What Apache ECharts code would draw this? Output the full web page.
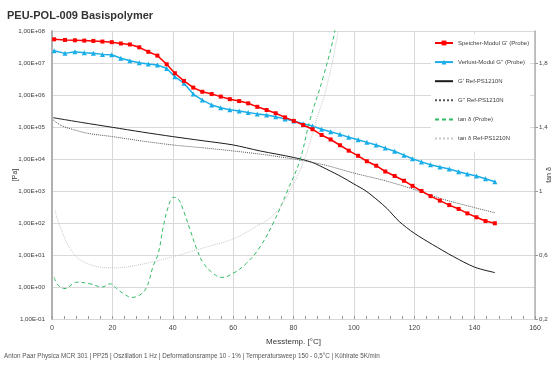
<!DOCTYPE html>
<html>
<head>
<meta charset="utf-8">
<script src="https://cdn.jsdelivr.net/npm/echarts@6/dist/echarts.min.js"></script>
<style>
  html, body { margin: 0; padding: 0; background: #fff; }
  #chart { width: 554px; height: 367px; }
</style>
</head>
<body>
<div id="chart"></div>
<script>
const FONT = '"Liberation Sans Narrow", "Liberation Sans", sans-serif'

// probe: G' and G'' share the same temperature points
const tempProbe = [0.7, 4.3, 7.6, 10.7, 13.7, 16.7, 19.8, 22.8, 25.8, 28.9, 31.9, 34.9, 38.0, 40.7, 43.7, 46.8, 49.8,
  52.9, 55.9, 58.9, 62.0, 65.0, 68.0, 71.1, 74.1, 77.2, 80.1, 83.2, 86.3, 89.3, 92.3, 95.4, 98.3, 101.4, 104.3,
  107.4, 110.4, 113.5, 116.6, 119.4, 122.4, 125.4, 128.5, 131.6, 134.7, 137.6, 140.6, 143.6, 146.7]
const storageProbe = [5.50e7, 5.25e7, 5.13e7, 5.01e7, 4.90e7, 4.68e7, 4.47e7, 4.07e7, 3.80e7, 3.09e7, 2.24e7, 1.70e7,
  9.12e6, 4.79e6, 2.75e6, 1.70e6, 1.26e6, 1.07e6, 8.91e5, 7.41e5, 6.46e5, 5.50e5, 4.27e5, 3.39e5, 2.69e5, 2.00e5,
  1.55e5, 1.15e5, 8.51e4, 5.62e4, 4.07e4, 2.69e4, 1.82e4, 1.26e4, 8.51e3, 6.17e3, 4.07e3, 2.95e3, 2.09e3, 1.45e3,
  1.00e3, 692, 501, 363, 275, 200, 151, 115, 98]
const lossProbe = [2.40e7, 2.00e7, 2.24e7, 2.09e7, 2.00e7, 1.86e7, 1.82e7, 1.41e7, 1.17e7, 1.02e7, 9.33e6, 8.71e6,
  6.76e6, 3.72e6, 2.34e6, 1.07e6, 6.92e5, 4.90e5, 3.98e5, 3.47e5, 3.16e5, 2.82e5, 2.57e5, 2.37e5, 2.09e5, 1.78e5,
  1.55e5, 1.26e5, 1.07e5, 8.51e4, 7.08e4, 5.89e4, 4.79e4, 3.98e4, 3.31e4, 2.75e4, 2.19e4, 1.74e4, 1.32e4, 1.02e4,
  8.13e3, 6.61e3, 5.62e3, 4.90e3, 3.98e3, 3.39e3, 2.95e3, 2.40e3, 1.95e3]

// reference PS1210N
const tempRefStorage = [0.4, 10, 20, 30, 40, 50, 60, 69, 80, 86, 91, 96, 100, 104, 108, 111, 115, 120, 126, 133, 140, 146.7]
const storageRef = [1.95e5, 1.38e5, 9.77e4, 6.92e4, 5.01e4, 3.72e4, 2.75e4, 1.78e4, 1.12e4, 7.94e3, 4.79e3, 2.75e3,
  1.66e3, 1.00e3, 501, 282, 112, 47.9, 21.4, 8.91, 4.17, 2.82]
const tempRefLoss = [0.4, 3, 7, 12, 20, 30, 40, 50, 62, 70, 78, 82, 90, 100, 110, 120, 130, 140, 146.7]
const lossRef = [1.66e5, 1.12e5, 8.32e4, 6.31e4, 5.01e4, 3.63e4, 2.75e4, 2.24e4, 1.70e4, 1.38e4, 1.07e4, 9.33e3,
  6.61e3, 3.63e3, 2.14e3, 1.12e3, 537, 302, 209]

// tan delta (right axis)
const tempTanProbe = [0.7, 2.1, 4.3, 8.2, 12.6, 16.5, 19.4, 21.4, 23.6, 26.4, 29.1, 31.4, 33.5, 35.2, 36.9, 38.5,
  40.2, 41.8, 43.5, 45.7, 47.9, 50.1, 53.4, 56.2, 60.0, 64.5, 68.9, 73.3, 78.2, 82.1, 85.4, 89.8, 93.7, 96.0]
const tanProbe = [0.46, 0.41, 0.39, 0.43, 0.42, 0.40, 0.42, 0.39, 0.36, 0.335, 0.35, 0.40, 0.53, 0.61, 0.78, 0.90,
  0.96, 0.95, 0.88, 0.76, 0.64, 0.55, 0.485, 0.46, 0.485, 0.55, 0.65, 0.80, 1.01, 1.19, 1.44, 1.71, 2.0, 2.3]
const tempTanRef = [1.0, 2.6, 7.1, 12.6, 20.3, 29.1, 40.2, 51.2, 59.9, 67.8, 73.3, 78.8, 83.8, 87.7, 91.1, 94.7, 97.0]
const tanRef = [0.88, 0.78, 0.61, 0.54, 0.52, 0.54, 0.59, 0.65, 0.70, 0.78, 0.85, 1.00, 1.21, 1.45, 1.66, 1.99, 2.3]

const seriesNames = [
  'Speicher-Modul G\' (Probe)',
  'Verlust-Modul G\'\' (Probe)',
  'G\' Ref-PS1210N',
  'G\'\' Ref-PS1210N',
  'tan δ (Probe)',
  'tan δ Ref-PS1210N',
]

const zip = (xs, ys) => xs.map((x, i) => [x, ys[i]])

function sciLabel(v) {
  const e = Math.round(Math.log10(v))
  return '1,00E' + (e < 0 ? '-' : '+') + String(Math.abs(e)).padStart(2, '0')
}

const textColor = '#404040'
const gridColor = '#d9d9d9'

// series without markers: hide the dot ECharts puts in the legend icon
const legendData = seriesNames.map((name, i) => (i < 2 ? name : { name, itemStyle: { opacity: 0 } }))

const chart = echarts.init(document.getElementById('chart'))
chart.setOption({
  animation: false,
  textStyle: { fontFamily: FONT },
  title: {
    text: 'PEU-POL-009 Basispolymer',
    left: 2,
    top: 5,
    textStyle: { fontSize: 11, fontWeight: 'bold', color: '#333', fontFamily: FONT },
  },
  grid: { left: 52, right: 19, top: 31, bottom: 48, outerBoundsMode: 'none' },
  legend: {
    orient: 'vertical',
    left: 431,
    top: 34,
    data: legendData,
    itemWidth: 18,
    itemHeight: 6,
    itemGap: 13.1,
    padding: [6, 1, 10, 3],
    backgroundColor: '#fff',
    textStyle: { fontSize: 6, color: textColor, fontFamily: FONT },
  },
  xAxis: {
    type: 'value',
    min: 0,
    max: 160,
    interval: 20,
    name: 'Messtemp. [°C]',
    nameLocation: 'middle',
    nameGap: 19,
    nameMoveOverlap: false,
    nameTextStyle: { fontSize: 8, color: '#333', fontFamily: FONT },
    axisLine: { show: false },
    axisTick: { show: true, inside: true, length: 3, lineStyle: { color: '#999' } },
    minorTick: { show: true, splitNumber: 5, length: 3, lineStyle: { color: '#999' } },
    axisLabel: { fontSize: 7, color: textColor, margin: 6 },
    splitLine: { show: true, lineStyle: { color: gridColor, width: 1 } },
  },
  yAxis: [
    {
      type: 'log',
      logBase: 10,
      min: 0.1,
      max: 1e8,
      splitNumber: 9,
      name: '[Pa]',
      nameLocation: 'middle',
      nameGap: 33,
      nameMoveOverlap: false,
      nameRotate: 90,
      nameTextStyle: { fontSize: 7, color: '#333', fontFamily: FONT },
      axisLine: { show: true, lineStyle: { color: '#b0b0b0', width: 2 } },
      axisTick: { show: false },
      axisLabel: { fontSize: 6.2, color: textColor, margin: 7, formatter: sciLabel },
      splitLine: { show: true, lineStyle: { color: gridColor, width: 1 } },
    },
    {
      type: 'value',
      min: 0.2,
      max: 2.0,
      interval: 0.4,
      position: 'right',
      name: 'tan δ',
      nameLocation: 'middle',
      nameGap: 11,
      nameMoveOverlap: false,
      nameRotate: 90,
      nameTextStyle: { fontSize: 7, color: '#333', fontFamily: FONT },
      axisLine: { show: true, lineStyle: { color: '#b0b0b0', width: 1.5 } },
      axisTick: { show: true, length: 3, lineStyle: { color: '#999' } },
      axisLabel: {
        fontSize: 6.2,
        color: textColor,
        margin: 4,
        showMaxLabel: false,
        formatter: v => String(Math.round(v * 10) / 10).replace('.', ','),
      },
      splitLine: { show: false },
    },
  ],
  series: [
    {
      name: seriesNames[0],
      type: 'line',
      data: zip(tempProbe, storageProbe),
      color: '#ff0000',
      symbol: 'rect',
      symbolSize: 4,
      lineStyle: { width: 1.5 },
      z: 4,
    },
    {
      name: seriesNames[1],
      type: 'line',
      data: zip(tempProbe, lossProbe),
      color: '#1aaee8',
      symbol: 'triangle',
      symbolSize: 5,
      lineStyle: { width: 1.5 },
      z: 3,
    },
    {
      name: seriesNames[2],
      type: 'line',
      data: zip(tempRefStorage, storageRef),
      color: '#1a1a1a',
      symbol: 'none',
      smooth: 0.3,
      lineStyle: { width: 1 },
    },
    {
      name: seriesNames[3],
      type: 'line',
      data: zip(tempRefLoss, lossRef),
      color: '#555',
      symbol: 'none',
      smooth: 0.3,
      lineStyle: { width: 1, type: 'dotted' },
    },
    {
      name: seriesNames[4],
      type: 'line',
      yAxisIndex: 1,
      data: zip(tempTanProbe, tanProbe),
      color: '#33bb66',
      symbol: 'none',
      smooth: 0.4,
      lineStyle: { width: 1, type: [4, 3] },
    },
    {
      name: seriesNames[5],
      type: 'line',
      yAxisIndex: 1,
      data: zip(tempTanRef, tanRef),
      color: '#c8c8c8',
      symbol: 'none',
      smooth: 0.4,
      lineStyle: { width: 1, type: 'dotted' },
    },
  ],
  graphic: [
    {
      type: 'text',
      left: 4,
      top: 353,
      style: {
        text: 'Anton Paar Physica MCR 301 | PP25 | Oszillation 1 Hz | Deformationsrampe 10 - 1% | Temperatursweep 150 - 0,5°C | Kühlrate 5K/min',
        fontSize: 6.3,
        fill: '#555',
        fontFamily: FONT,
      },
    },
  ],
})
</script>
</body>
</html>
